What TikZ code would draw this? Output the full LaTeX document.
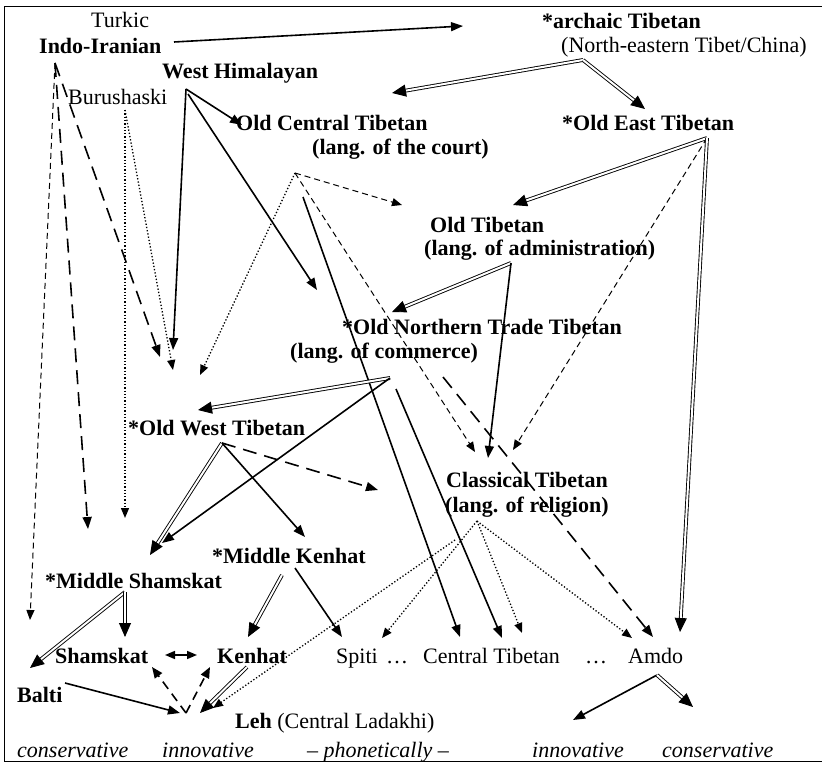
\documentclass[tikz,border=0pt]{standalone}
\usepackage{fontspec}
\setmainfont{Liberation Serif}
\usetikzlibrary{arrows.meta}
\begin{document}
\begin{tikzpicture}[x=1pt,y=-1pt,
  lbl/.style={anchor=base west, inner sep=0pt, font=\fontsize{22}{25}\selectfont},
  blbl/.style={anchor=base west, inner sep=0pt, font=\fontsize{22}{25}\selectfont\bfseries},
  ilbl/.style={anchor=base west, inner sep=0pt, font=\fontsize{22}{25}\selectfont\itshape},
  solidarr/.style={line width=1.6pt, -{Triangle[length=12pt,width=9pt]}},
  dblarr/.style={double, double distance=2pt, line width=0.9pt, -{Triangle[length=14pt,width=12pt]}},
  dblboth/.style={line width=1.6pt, {Triangle[length=10pt,width=8pt]}-{Triangle[length=10pt,width=8pt]}},
  thindash/.style={line width=1pt, dash pattern=on 6pt off 4pt, -{Triangle[length=10pt,width=8pt]}},
  longdash/.style={line width=1.6pt, dash pattern=on 14pt off 8pt, -{Triangle[length=12pt,width=9pt]}},
  middash/.style={line width=1.6pt, dash pattern=on 9pt off 6pt, -{Triangle[length=11pt,width=9pt]}},
  dotarr/.style={line width=1.3pt, dash pattern=on 1.3pt off 2pt, -{Triangle[length=10pt,width=8pt]}},
]
\useasboundingbox (0,0) rectangle (822,763);
% frame
\draw[line width=1pt] (830,6) -- (4,6) -- (4,761) -- (830,761);

% ---------- labels ----------
\node[lbl]  (turkic) at (91,27)  {Turkic};
\node[blbl] (indo)   at (39,53)  {Indo-Iranian};
\node[blbl] (whim)   at (162,78) {West Himalayan};
\node[lbl]  (buru)   at (68,104) {Burushaski};
\node[blbl] (oct)    at (236,130) {Old Central Tibetan};
\node[blbl] (octb)   at (312,154) {(lang. of the court)};
\node[blbl] (arch)   at (542,28) {*archaic Tibetan};
\node[lbl]  (archb)  at (561,52) {(North-eastern Tibet/China)};
\node[blbl] (oet)    at (562,130) {*Old East Tibetan};
\node[blbl] (ot)     at (430,232) {Old Tibetan};
\node[blbl] (otb)    at (424,255) {(lang. of administration)};
\node[blbl] (ontt)   at (342,334) {*Old Northern Trade Tibetan};
\node[blbl] (onttb)  at (290,358) {(lang. of commerce)};
\node[blbl] (owt)    at (128,435) {*Old West Tibetan};
\node[blbl] (clt)    at (446,487) {Classical Tibetan};
\node[blbl] (cltb)   at (445,512) {(lang. of religion)};
\node[blbl] (mk)     at (212,563) {*Middle Kenhat};
\node[blbl] (ms)     at (45,588)  {*Middle Shamskat};
\node[blbl] (sham)   at (55,663)  {Shamskat};
\node[blbl] (ken)    at (217,663) {Kenhat};
\node[lbl]  (spiti)  at (336,663) {Spiti};
\node[lbl]  (dotsa)  at (386,663) {…};
\node[lbl]  (ct)     at (423,663) {Central Tibetan};
\node[lbl]  (dotsb)  at (585,663) {…};
\node[lbl]  (amdo)   at (628,663) {Amdo};
\node[blbl] (balti)  at (17,702)  {Balti};
\node[lbl]  (leh)    at (235,728) {\textbf{Leh} (Central Ladakhi)};
\node[ilbl] (cons1)  at (17,757)  {conservative};
\node[ilbl] (inno1)  at (162,757) {innovative};
\node[ilbl] (phon)   at (307,757) {– phonetically –};
\node[ilbl] (inno2)  at (532,757) {innovative};
\node[ilbl] (cons2)  at (662,757) {conservative};

% ---------- connector points ----------
\coordinate (iiR) at (174,42);   \coordinate (atL) at (463,26);
\coordinate (iiB) at (55,63);
\coordinate (iiT1) at (30,620);  \coordinate (iiT2) at (88,529);  \coordinate (iiT3) at (160,357);
\coordinate (arA) at (583,60);   \coordinate (arT1) at (392,93);  \coordinate (arT2) at (645,109);
\coordinate (whA) at (186,89);   \coordinate (whB) at (188,94);
\coordinate (whT1) at (242,125); \coordinate (whT2) at (173,350); \coordinate (whT3) at (317,290);
\coordinate (buA) at (125,110);  \coordinate (buT1) at (125,518); \coordinate (buT2) at (173,370);
\coordinate (ocA) at (295,173);  \coordinate (ocT1) at (402,205); \coordinate (ocT2) at (200,375); \coordinate (ocT3) at (475,452);
\coordinate (ocS) at (303,197);  \coordinate (ctT1) at (460,637);
\coordinate (oeA) at (707,138);  \coordinate (oeT1) at (513,205); \coordinate (oeT2) at (513,450); \coordinate (oeT3) at (680,632);
\coordinate (otA) at (511,263);  \coordinate (otT1) at (392,312); \coordinate (otT2) at (488,458);
\coordinate (onA) at (390,378);  \coordinate (onT1) at (198,410); \coordinate (onT2) at (162,543);
\coordinate (onS) at (396,389);  \coordinate (ctT2) at (502,638);
\coordinate (onD) at (443,377);  \coordinate (amT1) at (653,637);
\coordinate (owA) at (222,443);  \coordinate (owT1) at (150,555); \coordinate (owT2) at (305,537); \coordinate (owT3) at (378,490);
\coordinate (mkA) at (282,575);  \coordinate (mkT1) at (248,637);
\coordinate (mkB) at (295,568);  \coordinate (mkT2) at (342,637);
\coordinate (msA) at (125,592);  \coordinate (msT1) at (30,668);  \coordinate (msT2) at (125,637);
\coordinate (skR) at (165,655);  \coordinate (knL) at (197,655);
\coordinate (leA) at (186,713);  \coordinate (leT1) at (152,667); \coordinate (leT2) at (210,667);
\coordinate (baR) at (65,683);   \coordinate (leT3) at (180,713);
\coordinate (knB) at (247,667);  \coordinate (leT4) at (200,713);
\coordinate (clA) at (477,521);  \coordinate (clB) at (455,540);
\coordinate (clT1) at (382,638); \coordinate (clT2) at (522,633); \coordinate (clT3) at (632,638); \coordinate (clT4) at (213,708);
\coordinate (amA) at (657,675);  \coordinate (amT2) at (573,720); \coordinate (amT3) at (693,707);

% ---------- connectors ----------
\draw[solidarr] (iiR) -- (atL);
\draw[thindash] (iiB) -- (iiT1);
\draw[longdash] (iiB) -- (iiT2);
\draw[longdash] (iiB) -- (iiT3);
\draw[dblarr] (arA) -- (arT1);
\draw[dblarr] (arA) -- (arT2);
\draw[solidarr] (whA) -- (whT1);
\draw[solidarr] (whA) -- (whT2);
\draw[solidarr] (whB) -- (whT3);
\draw[dotarr] (buA) -- (buT1);
\draw[dotarr] (buA) -- (buT2);
\draw[thindash] (ocA) -- (ocT1);
\draw[dotarr] (ocA) -- (ocT2);
\draw[thindash] (ocA) -- (ocT3);
\draw[solidarr] (ocS) -- (ctT1);
\draw[dblarr] (oeA) -- (oeT1);
\draw[thindash] (oeA) -- (oeT2);
\draw[dblarr] (oeA) -- (oeT3);
\draw[dblarr] (otA) -- (otT1);
\draw[solidarr] (otA) -- (otT2);
\draw[dblarr] (onA) -- (onT1);
\draw[solidarr] (onA) -- (onT2);
\draw[solidarr] (onS) -- (ctT2);
\draw[longdash] (onD) -- (amT1);
\draw[dblarr] (owA) -- (owT1);
\draw[solidarr] (owA) -- (owT2);
\draw[longdash] (owA) -- (owT3);
\draw[dblarr] (mkA) -- (mkT1);
\draw[solidarr] (mkB) -- (mkT2);
\draw[dblarr] (msA) -- (msT1);
\draw[dblarr] (msA) -- (msT2);
\draw[dblboth] (skR) -- (knL);
\draw[middash] (leA) -- (leT1);
\draw[middash] (leA) -- (leT2);
\draw[solidarr] (baR) -- (leT3);
\draw[dblarr] (knB) -- (leT4);
\draw[dotarr] (clA) -- (clT1);
\draw[dotarr] (clA) -- (clT2);
\draw[dotarr] (clA) -- (clT3);
\draw[dotarr] (clB) -- (clT4);
\draw[solidarr] (amA) -- (amT2);
\draw[dblarr] (amA) -- (amT3);
\end{tikzpicture}
\end{document}
